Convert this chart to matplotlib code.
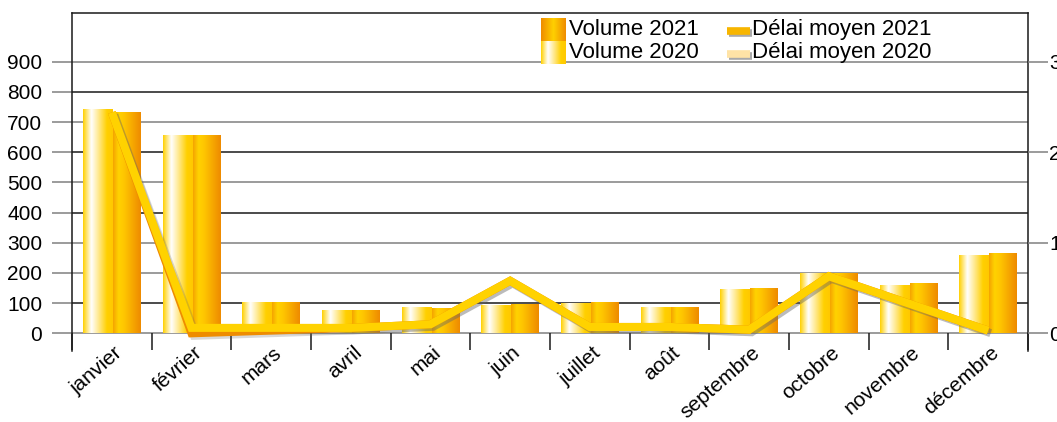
import numpy as np
import matplotlib
matplotlib.use("Agg")
import matplotlib.pyplot as plt
from matplotlib import font_manager
from matplotlib import patheffects as pe
from matplotlib.colors import LinearSegmentedColormap
from matplotlib.transforms import ScaledTranslation

# data
months = ["janvier", "février", "mars", "avril", "mai", "juin", "juillet",
          "août", "septembre", "octobre", "novembre", "décembre"]
vol_2020 = [740, 655, 100, 75, 86, 90, 99, 83, 143, 196, 159, 256]
vol_2021 = [732, 655, 100, 75, 82, 93, 101, 83, 146, 197, 163, 262]
delai_2021 = [2.44, 0.06, 0.06, 0.06, 0.10, 0.58, 0.07, 0.07, 0.04, 0.63, 0.33, 0.03]
delai_2020 = [2.44, 0.00, 0.03, 0.06, 0.10, 0.58, 0.07, 0.07, 0.04, 0.63, 0.33, 0.03]
left_ticks = list(range(0, 1000, 100))
right_ticks = [0, 1, 2, 3]

names = {f.name for f in font_manager.fontManager.ttflist}
narrow = "Liberation Sans Narrow" if "Liberation Sans Narrow" in names else "Liberation Sans"
plt.rcParams["font.family"] = ["Liberation Sans", "DejaVu Sans"]

cm_2020 = LinearSegmentedColormap.from_list(
    "v2020", [(0, "#ffd000"), (0.28, "#ffffff"), (0.55, "#ffe680"), (0.8, "#ffd000"), (1, "#ffc800")])
cm_2021 = LinearSegmentedColormap.from_list(
    "v2021", [(0, "#f5a300"), (0.2, "#ffd200"), (0.4, "#ffc600"), (1, "#ee8a00")])
cm_leg21 = LinearSegmentedColormap.from_list(
    "l2021", [(0, "#ef8c00"), (0.5, "#ffd000"), (1, "#ef8c00")])
grad = np.linspace(0, 1, 256).reshape(1, -1)

fig = plt.figure(figsize=(10.57, 4.22), dpi=100)
ax = fig.add_axes([72 / 1057, 1 - 351 / 422, 956 / 1057, 338 / 422])
ax.set_xlim(-0.5, 11.5)
ylim = (-58.6, 1061.3)

x = np.arange(len(months))

# grid lines (alternating dark / grey as in the original)
dark = {800, 600, 400, 100}
for v in left_ticks:
    ax.axhline(v, color="#1a1a1a" if v in dark else "#808080", lw=1.1, zorder=0)

bars20 = ax.bar(x - 0.36, vol_2020, width=0.375, align="edge", color="none", zorder=2)
bars21 = ax.bar(x + 0.015, vol_2021, width=0.345, align="edge", color="none", zorder=2)
for bars, cmap in ((bars20, cm_2020), (bars21, cm_2021)):
    for p in bars:
        x0, y0, w, h = p.get_x(), p.get_y(), p.get_width(), p.get_height()
        ax.imshow(grad, cmap=cmap, extent=[x0, x0 + w, y0, y0 + h],
                  aspect="auto", zorder=2, interpolation="bilinear")

ax.set_ylim(*ylim)
ax.set_yticks(left_ticks)
ax.tick_params(axis="y", direction="out", length=14.4, width=1.1, color="#808080",
               pad=7, labelsize=15)
for t in ax.get_yticklabels():
    t.set_family(narrow)

# categories: separators as minor ticks on an axis sitting at 0
ax.spines["bottom"].set_position(("data", 0))
ax.spines["bottom"].set_visible(False)
ax.set_xticks(np.arange(-0.5, 12, 1), minor=True)
ax.set_xticks(x)
ax.set_xticklabels(months, rotation=41, ha="right", va="top", rotation_mode="anchor")
ax.tick_params(axis="x", which="minor", direction="out", length=12.5, width=1.1, color="#1a1a1a")
ax.tick_params(axis="x", which="major", length=0, pad=7, labelsize=15)
off = ScaledTranslation(0.02, 0, fig.dpi_scale_trans)
for t in ax.get_xticklabels():
    t.set_family(narrow)
    t.set_transform(t.get_transform() + off)

for s in ("left", "right", "top"):
    ax.spines[s].set_color("#1a1a1a")
    ax.spines[s].set_linewidth(1.1)

# second axis for the average delay
ax2 = ax.twinx()
ax2.set_ylim(ylim[0] / 300, ylim[1] / 300)
ax2.set_yticks(right_ticks)
ax2.tick_params(axis="y", direction="out", length=14.4, width=1.1, color="#808080",
                pad=1, labelsize=15)
for t in ax2.get_yticklabels():
    t.set_family(narrow)
for s in ax2.spines.values():
    s.set_visible(False)

shadow = pe.SimpleLineShadow(offset=(1.8, -1.8), shadow_color="#666666", alpha=0.25)
# shadow of the top line goes under both lines
ax2.plot(x, delai_2021, lw=5.8, solid_capstyle="butt", solid_joinstyle="miter",
         path_effects=[shadow], zorder=2.8)
ax2.plot(x, delai_2020, color="#ee8c00", lw=5.8, solid_capstyle="butt",
         solid_joinstyle="miter", path_effects=[shadow, pe.Normal()], zorder=3)
ax2.plot(x, delai_2021, color="#ffd200", lw=5.8, solid_capstyle="butt",
         solid_joinstyle="miter", zorder=4)

# legend drawn by hand in axes coordinates
def ax_x(px):
    return (px - 72) / 956

def ax_y(py):
    return (351 - py) / 338

rows = [(18.5, 41.5), (41.5, 64)]
for (top, bot), cmap in zip(rows, (cm_leg21, cm_2020)):
    ax2.imshow(grad, cmap=cmap, extent=[ax_x(541), ax_x(565), ax_y(bot), ax_y(top)],
               transform=ax2.transAxes, aspect="auto", zorder=5, interpolation="bilinear")
for (top, bot), label in zip(rows, ("Volume 2021", "Volume 2020")):
    ax2.text(ax_x(569), ax_y((top + bot) / 2), label, transform=ax2.transAxes,
             fontsize=16, va="center", ha="left", zorder=6)
for (top, bot), color, label in zip(rows, ("#f7b500", "#ffe3a6"),
                                    ("Délai moyen 2021", "Délai moyen 2020")):
    yc = ax_y((top + bot) / 2 + 1)
    ax2.plot([ax_x(727), ax_x(750)], [yc, yc], transform=ax2.transAxes, color=color,
             lw=5.5, solid_capstyle="butt",
             path_effects=[pe.SimpleLineShadow(offset=(1.5, -1.5), shadow_color="#555555", alpha=0.5),
                           pe.Normal()],
             zorder=5)
    ax2.text(ax_x(752), ax_y((top + bot) / 2), label, transform=ax2.transAxes,
             fontsize=16, va="center", ha="left", zorder=6)

ax2.set_xlim(-0.5, 11.5)
ax2.set_ylim(ylim[0] / 300, ylim[1] / 300)
ax.set_xlim(-0.5, 11.5)
ax.set_ylim(*ylim)

fig.savefig("out.png", dpi=100)
